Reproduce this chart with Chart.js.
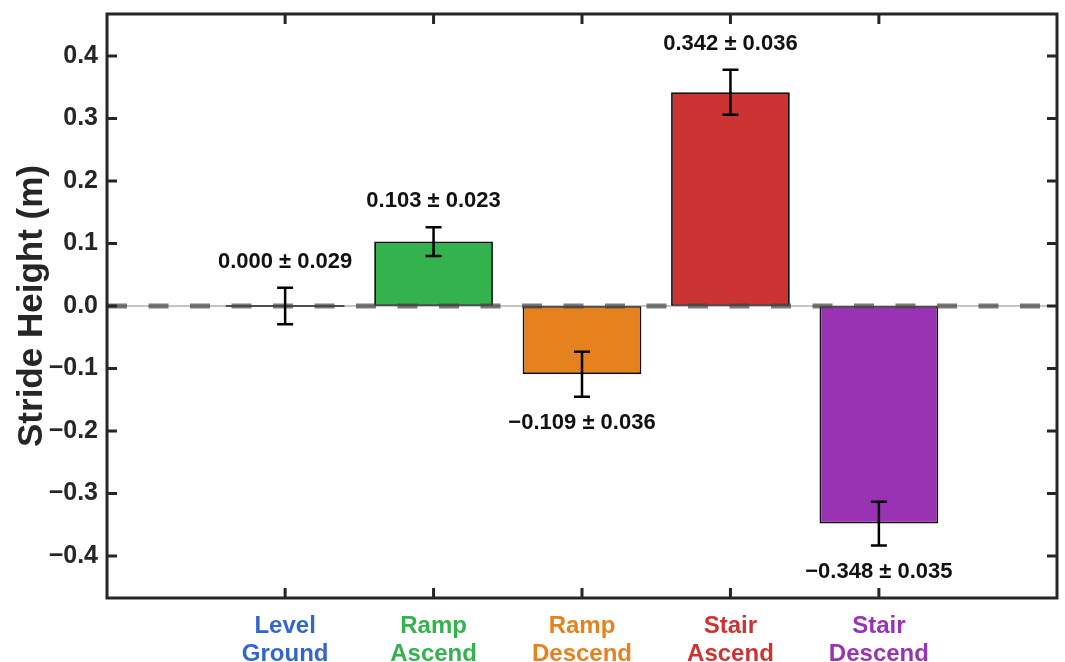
<!DOCTYPE html>
<html><head><meta charset="utf-8">
<script src="https://cdn.jsdelivr.net/npm/chart.js@4/dist/chart.umd.min.js"></script>
<style>html,body{margin:0;padding:0;background:#fff}#wrap{width:1065px;height:662px}</style>
</head><body><div id="wrap"><canvas id="c" width="1065" height="662"></canvas></div>
<script>
const categories = [['Level','Ground'],['Ramp','Ascend'],['Ramp','Descend'],['Stair','Ascend'],['Stair','Descend']];
const positions = [1, 2, 3, 4, 5];
const means = [0.000, 0.103, -0.109, 0.342, -0.348];
const errors = [0.029, 0.023, 0.036, 0.036, 0.035];
const colors = ['#3366CC', '#33B24D', '#E6821E', '#CC3333', '#9933B3'];
const yTicks = [-0.4, -0.3, -0.2, -0.1, 0, 0.1, 0.2, 0.3, 0.4];
const yRange = [-0.467, 0.467];
const xRange = [-0.2, 6.2];

const FONT = "'Liberation Sans', Arial, Helvetica, sans-serif";
const AX = '#262626';
const minus = s => s.replace('-', '\u2212');
const fmt1 = v => minus((Math.abs(v) < 1e-9 ? 0 : v).toFixed(1));
const fmt3 = v => minus(v.toFixed(3));
const noPad = s => { s.paddingTop = 0; s.paddingBottom = 0; s.paddingLeft = 0; s.paddingRight = 0; };

const overlay = {
  id: 'overlay',
  afterDatasetsDraw(chart) {
    const ctx = chart.ctx, xs = chart.scales.x, ys = chart.scales.y, ca = chart.chartArea;
    const meta = chart.getDatasetMeta(0);
    ctx.save();
    meta.data.forEach((bar, i) => {
      if (means[i] === 0) {
        ctx.strokeStyle = '#111'; ctx.lineWidth = 2;
        ctx.beginPath(); ctx.moveTo(bar.x - bar.width / 2, bar.y); ctx.lineTo(bar.x + bar.width / 2, bar.y); ctx.stroke();
      }
    });
    const y0 = ys.getPixelForValue(0);
    ctx.strokeStyle = '#8a8a8a'; ctx.lineWidth = 1;
    ctx.beginPath(); ctx.moveTo(ca.left, y0); ctx.lineTo(ca.right, y0); ctx.stroke();
    ctx.strokeStyle = 'rgba(70,70,70,0.72)'; ctx.lineWidth = 5;
    ctx.setLineDash([20, 21.5]);
    ctx.beginPath(); ctx.moveTo(ca.left, y0); ctx.lineTo(ca.right, y0); ctx.stroke();
    ctx.setLineDash([]);
    ctx.font = 'bold 22px ' + FONT;
    ctx.textAlign = 'center'; ctx.textBaseline = 'middle';
    positions.forEach((p, i) => {
      const x = xs.getPixelForValue(p);
      const yt = ys.getPixelForValue(means[i] + errors[i]);
      const yb = ys.getPixelForValue(means[i] - errors[i]);
      ctx.strokeStyle = '#000'; ctx.lineWidth = 2.5;
      ctx.beginPath();
      ctx.moveTo(x, yt); ctx.lineTo(x, yb);
      ctx.moveTo(x - 8, yt); ctx.lineTo(x + 8, yt);
      ctx.moveTo(x - 8, yb); ctx.lineTo(x + 8, yb);
      ctx.stroke();
      ctx.fillStyle = '#111';
      const txt = fmt3(means[i]) + ' \u00B1 ' + errors[i].toFixed(3);
      ctx.fillText(txt, x, means[i] >= 0 ? yt - 26 : yb + 26);
    });
    ctx.restore();
  },
  afterDraw(chart) {
    const ctx = chart.ctx, xs = chart.scales.x, ys = chart.scales.y, ca = chart.chartArea;
    ctx.save();
    ctx.strokeStyle = AX; ctx.lineWidth = 3;
    ctx.strokeRect(ca.left, ca.top, ca.right - ca.left, ca.bottom - ca.top);
    ctx.beginPath();
    positions.forEach(p => {
      const x = xs.getPixelForValue(p);
      ctx.moveTo(x, ca.bottom); ctx.lineTo(x, ca.bottom - 10);
      ctx.moveTo(x, ca.top); ctx.lineTo(x, ca.top + 10);
    });
    yTicks.forEach(v => {
      const y = ys.getPixelForValue(v);
      ctx.moveTo(ca.left, y); ctx.lineTo(ca.left + 10, y);
      ctx.moveTo(ca.right, y); ctx.lineTo(ca.right - 10, y);
    });
    ctx.stroke();
    ctx.restore();
  }
};

new Chart(document.getElementById('c'), {
  type: 'bar',
  data: {
    datasets: [{
      data: positions.map((x, i) => ({ x: x, y: means[i] })),
      backgroundColor: colors,
      borderColor: '#111',
      borderWidth: 1.8,
      borderSkipped: false,
      categoryPercentage: 1,
      barPercentage: 0.8
    }]
  },
  options: {
    responsive: false,
    animation: false,
    devicePixelRatio: 1,
    layout: { padding: { top: 14, right: 8, left: 0, bottom: 0 } },
    plugins: { legend: { display: false }, tooltip: { enabled: false } },
    scales: {
      x: {
        type: 'linear', min: xRange[0], max: xRange[1], offset: false,
        afterBuildTicks: s => { s.ticks = positions.map(v => ({ value: v })); },
        ticks: {
          autoSkip: false, maxRotation: 0, padding: 15,
          callback: (v, i) => categories[i],
          color: c => colors[c.index],
          font: { family: FONT, size: 24, weight: 'bold', lineHeight: '27.5px' }
        },
        grid: { display: false, drawTicks: false, offset: false },
        border: { display: false },
        afterFit: s => { s.height = 64; noPad(s); }
      },
      y: {
        type: 'linear', min: yRange[0], max: yRange[1],
        afterBuildTicks: s => { s.ticks = yTicks.map(v => ({ value: v })); },
        ticks: {
          padding: 9, color: AX,
          callback: v => fmt1(v),
          font: { family: FONT, size: 25, weight: 'bold' }
        },
        title: {
          display: true, text: 'Stride Height (m)', color: AX,
          font: { family: FONT, size: 35, weight: 'bold', lineHeight: 1.2 },
          padding: { top: 11, bottom: 0 }
        },
        grid: { display: false, drawTicks: false },
        border: { display: false },
        afterFit: s => { s.width = 107; noPad(s); }
      }
    }
  },
  plugins: [overlay]
});
</script>
</body></html>
